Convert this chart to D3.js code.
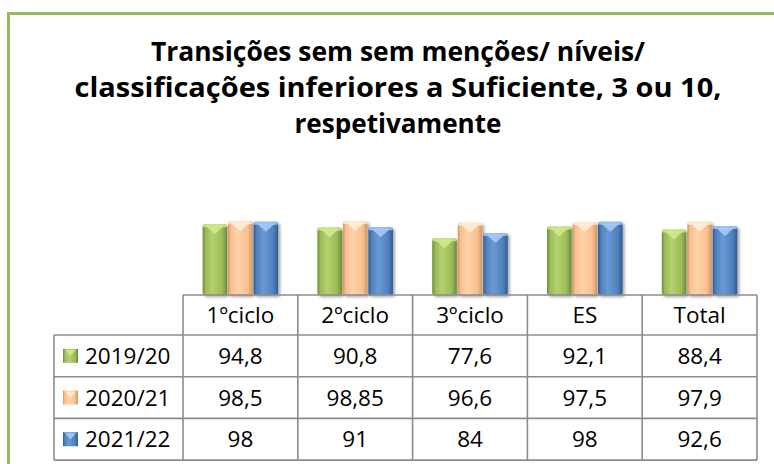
<!DOCTYPE html>
<html><head><meta charset="utf-8">
<script src="https://cdn.jsdelivr.net/npm/d3@7"></script>
<style>body{margin:0;background:#fff}svg{display:block}</style>
</head><body><svg id="c" width="774" height="464"></svg>
<script>
const titleLines = ["Transições sem sem menções/ níveis/", "classificações inferiores a Suficiente, 3 ou 10,", "respetivamente"];
const categories = ["1ºciclo", "2ºciclo", "3ºciclo", "ES", "Total"];
const seriesNames = ["2019/20", "2020/21", "2021/22"];
const values2019 = [94.8, 90.8, 77.6, 92.1, 88.4];
const values2020 = [98.5, 98.85, 96.6, 97.5, 97.9];
const values2021 = [98, 91, 84, 98, 92.6];
const labels2019 = ["94,8", "90,8", "77,6", "92,1", "88,4"];
const labels2020 = ["98,5", "98,85", "96,6", "97,5", "97,9"];
const labels2021 = ["98", "91", "84", "98", "92,6"];

const seriesValues = [values2019, values2020, values2021];
const seriesLabels = [labels2019, labels2020, labels2021];
const colors = [
  {base:"#9bbb59", dark:"#6f8a33", light:"#b5d26e", cap:"#d4ea8e"},
  {base:"#fac090", dark:"#cf9565", light:"#ffd2a8", cap:"#fff0d8"},
  {base:"#4f81bd", dark:"#2f5b92", light:"#6a9ad6", cap:"#a9cdf7"}
];

const svg = d3.select("#c");
svg.append("rect").attr("width",774).attr("height",464).attr("fill","#fff");
const defs = svg.append("defs");
colors.forEach((c,i)=>{
  const g = defs.append("linearGradient").attr("id","g"+i).attr("x1","0").attr("x2","1").attr("y1","0").attr("y2","0");
  g.append("stop").attr("offset","0").attr("stop-color",c.dark);
  g.append("stop").attr("offset","0.12").attr("stop-color",c.base);
  g.append("stop").attr("offset","0.4").attr("stop-color",c.light);
  g.append("stop").attr("offset","0.8").attr("stop-color",c.base);
  g.append("stop").attr("offset","1").attr("stop-color",c.dark);
});
const sh = defs.append("filter").attr("id","sh").attr("x","-20%").attr("y","-20%").attr("width","150%").attr("height","150%");
sh.append("feGaussianBlur").attr("in","SourceAlpha").attr("stdDeviation",1.5);
sh.append("feOffset").attr("dx",1.5).attr("dy",1.5).attr("result","b");
sh.append("feComponentTransfer").append("feFuncA").attr("type","linear").attr("slope",0.35);
const m = sh.append("feMerge"); m.append("feMergeNode"); m.append("feMergeNode").attr("in","SourceGraphic");

// frame
svg.append("rect").attr("x",8.5).attr("y",13.5).attr("width",820).attr("height",520)
  .attr("fill","none").attr("stroke","#9bbb59").attr("stroke-width",3);

// title
const title = svg.append("g").attr("font-family","'Open Sans', 'Noto Sans', sans-serif").attr("font-weight","bold").attr("font-size",26).attr("fill","#000").attr("text-anchor","middle");
const titleY = d3.scalePoint().domain(d3.range(titleLines.length)).range([61,133]);
const titleW = [494, 647, 207];
titleLines.forEach((t,i)=>{
  title.append("text").attr("x",398).attr("y",titleY(i)).attr("textLength",titleW[i]).attr("lengthAdjust","spacingAndGlyphs").text(t);
});

// scales
const x = d3.scaleBand().domain(categories).range([183,757]).padding(0);
const x1 = d3.scaleBand().domain(d3.range(seriesNames.length)).range([0,x.bandwidth()]).paddingInner(0).paddingOuter(0.75);
const y = d3.scaleLinear().domain([8,100]).range([295,220]);

// bars
const bars = svg.append("g");
categories.forEach((cat,ci)=>{
  seriesValues.forEach((vals,si)=>{
    const bx = x(cat)+x1(si), bw = x1.bandwidth(), by = y(vals[ci]), bh = y.range()[0]-by;
    const g = bars.append("g").attr("filter","url(#sh)");
    g.append("rect").attr("x",bx+0.5).attr("y",by).attr("width",bw-1).attr("height",bh).attr("rx",2).attr("fill","url(#g"+si+")");
    g.append("rect").attr("x",bx+0.5).attr("y",by).attr("width",bw-1).attr("height",3).attr("rx",1.5).attr("fill",colors[si].cap).attr("opacity",0.8);
    g.append("path").attr("d",`M${bx+4},${by+2}L${bx+bw-4},${by+2}L${bx+bw/2},${by+10}Z`).attr("fill",colors[si].cap).attr("opacity",0.85);
  });
});

// table
const rowTop = 295, headH = 40, rowH = 41.7;
const rowY = d3.scaleBand().domain(d3.range(seriesNames.length)).range([rowTop+headH, rowTop+headH+rowH*seriesNames.length]);
const tableBottom = rowY.range()[1];
const legendLeft = 54;
const grid = svg.append("g").attr("stroke","#8c8c8c").attr("stroke-width",1.6).attr("fill","none");
grid.append("line").attr("x1",x.range()[0]).attr("x2",x.range()[1]).attr("y1",rowTop).attr("y2",rowTop);
seriesNames.forEach((s,i)=>{
  grid.append("line").attr("x1",legendLeft).attr("x2",x.range()[1]).attr("y1",rowY(i)).attr("y2",rowY(i));
});
grid.append("line").attr("x1",legendLeft).attr("x2",x.range()[1]).attr("y1",tableBottom).attr("y2",tableBottom);
grid.append("line").attr("x1",legendLeft).attr("x2",legendLeft).attr("y1",rowY(0)).attr("y2",tableBottom);
categories.forEach(c=>{
  grid.append("line").attr("x1",x(c)).attr("x2",x(c)).attr("y1",rowTop).attr("y2",tableBottom);
});
grid.append("line").attr("x1",x.range()[1]).attr("x2",x.range()[1]).attr("y1",rowTop).attr("y2",tableBottom);

const txt = svg.append("g").attr("font-family","'Open Sans', 'Noto Sans', sans-serif").attr("font-size",22.5).attr("fill","#000");
categories.forEach(c=>{
  txt.append("text").attr("x",x(c)+x.bandwidth()/2).attr("y",rowTop+headH/2).attr("dy","0.36em").attr("text-anchor","middle").text(c);
});
seriesLabels.forEach((labs,si)=>{
  const cy = rowY(si)+rowY.bandwidth()/2;
  labs.forEach((l,ci)=>{
    txt.append("text").attr("x",x(categories[ci])+x.bandwidth()/2).attr("y",cy).attr("dy","0.36em").attr("text-anchor","middle").text(l);
  });
  // legend key
  const k = svg.append("g");
  k.append("rect").attr("x",63).attr("y",cy-7).attr("width",15).attr("height",14).attr("fill","url(#g"+si+")");
  k.append("path").attr("d",`M65,${cy-6}L76,${cy-6}L70.5,${cy}Z`).attr("fill",colors[si].cap).attr("opacity",0.85);
  txt.append("text").attr("x",85).attr("y",cy).attr("dy","0.36em").text(seriesNames[si]);
});
</script></body></html>
